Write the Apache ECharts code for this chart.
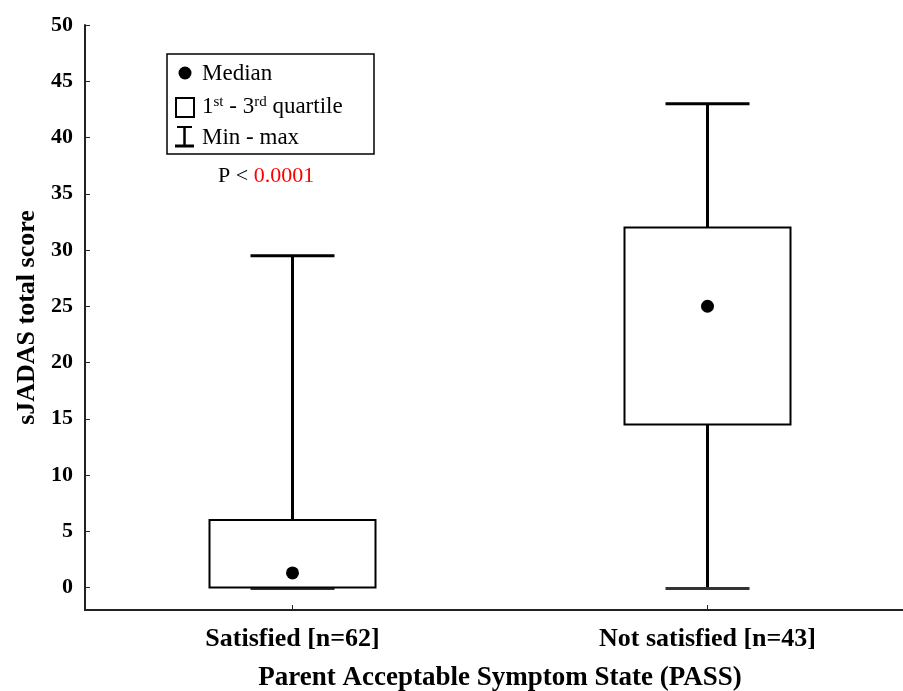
<!DOCTYPE html>
<html>
<head>
<meta charset="utf-8">
<script src="https://cdn.jsdelivr.net/npm/echarts@6/dist/echarts.min.js"></script>
<style>
  html, body { margin: 0; padding: 0; background: #fff; }
  #chart { width: 903px; height: 691px; }
</style>
</head>
<body>
<div id="chart"></div>
<script>
// Groups and their five-number summaries (sJADAS total score)
const categories = ['Satisfied [n=62]', 'Not satisfied [n=43]'];
const minValues = [0, 0];
const q1Values = [0, 14.5];
const medianValues = [1.3, 25];
const q3Values = [6, 32];
const maxValues = [29.5, 43];
const yTicks = [0, 5, 10, 15, 20, 25, 30, 35, 40, 45, 50];

const FONT = '"Liberation Serif", "Times New Roman", serif';

const boxData = categories.map((c, i) => [i, minValues[i], q1Values[i], medianValues[i], q3Values[i], maxValues[i]]);

function renderBox(params, api) {
  const i = api.value(0);
  const x = api.coord([i, 0])[0];
  const yMin = api.coord([i, api.value(1)])[1];
  const yQ1 = api.coord([i, api.value(2)])[1];
  const yMed = api.coord([i, api.value(3)])[1];
  const yQ3 = api.coord([i, api.value(4)])[1];
  const yMax = api.coord([i, api.value(5)])[1];
  const halfBox = 83;
  const halfCap = 42;
  const capStyle = { stroke: '#000', lineWidth: 3 };
  const children = [
    // upper whisker + cap
    { type: 'line', shape: { x1: x, y1: yQ3, x2: x, y2: yMax }, style: capStyle },
    { type: 'line', shape: { x1: x - halfCap, y1: yMax, x2: x + halfCap, y2: yMax }, style: capStyle },
    // lower whisker + cap
    { type: 'line', shape: { x1: x, y1: yQ1, x2: x, y2: yMin }, style: capStyle },
    { type: 'line', shape: { x1: x - halfCap, y1: yMin + 1, x2: x + halfCap, y2: yMin + 1 }, style: { stroke: '#333', lineWidth: 3 } },
    // interquartile box
    { type: 'rect', shape: { x: x - halfBox, y: yQ3, width: halfBox * 2, height: yQ1 - yQ3 },
      style: { fill: '#fff', stroke: '#000', lineWidth: 2 } },
    // median
    { type: 'circle', shape: { cx: x, cy: yMed, r: 6.5 }, style: { fill: '#000' } }
  ];
  return { type: 'group', children };
}

const chart = echarts.init(document.getElementById('chart'), null, { renderer: 'canvas' });

chart.setOption({
  backgroundColor: '#fff',
  animation: false,
  grid: { left: 85, top: 25, width: 830, bottom: 81, containLabel: false, outerBoundsMode: 'none' },
  xAxis: {
    type: 'category',
    data: categories,
    boundaryGap: true,
    name: 'Parent Acceptable Symptom State (PASS)',
    nameLocation: 'middle',
    nameGap: 55,
    nameTextStyle: { fontFamily: FONT, fontWeight: 'bold', fontSize: 27, color: '#000' },
    axisLine: { onZero: false, lineStyle: { color: '#222', width: 2 } },
    axisTick: { show: true, inside: true, length: 5, alignWithLabel: true, lineStyle: { color: '#222', width: 1 } },
    axisLabel: { fontFamily: FONT, fontWeight: 'bold', fontSize: 26, color: '#000', margin: 16 },
    splitLine: { show: false }
  },
  yAxis: {
    type: 'value',
    min: -2,
    max: 50,
    name: 'sJADAS total score',
    nameLocation: 'middle',
    nameGap: 39,
    nameTextStyle: { fontFamily: FONT, fontWeight: 'bold', fontSize: 26, color: '#000' },
    axisLine: { show: true, lineStyle: { color: '#222', width: 2 } },
    axisTick: { show: true, inside: true, length: 5, customValues: yTicks, lineStyle: { color: '#222', width: 1 } },
    axisLabel: { fontFamily: FONT, fontWeight: 'bold', fontSize: 22, color: '#000', margin: 12, customValues: yTicks },
    splitLine: { show: false }
  },
  graphic: [
    { type: 'rect', shape: { x: 167, y: 54, width: 207, height: 100 }, style: { fill: '#fff', stroke: '#000', lineWidth: 1.5 } },
    { type: 'circle', shape: { cx: 185, cy: 73, r: 6.5 }, style: { fill: '#000' } },
    { type: 'text', x: 202, y: 74, style: { text: 'Median', fontFamily: FONT, fontSize: 23, fill: '#000', verticalAlign: 'middle' } },
    { type: 'rect', shape: { x: 176, y: 98, width: 18, height: 19 }, style: { fill: '#fff', stroke: '#000', lineWidth: 2 } },
    { type: 'text', x: 202, y: 107, style: {
        text: '1{sup|st} - 3{sup|rd} quartile',
        fontFamily: FONT, fontSize: 23, fill: '#000', verticalAlign: 'middle',
        rich: { sup: { fontFamily: FONT, fontSize: 15, fill: '#000', verticalAlign: 'top', padding: [0, 0, 10, 0] } }
      } },
    { type: 'line', shape: { x1: 177, y1: 127, x2: 192, y2: 127 }, style: { stroke: '#000', lineWidth: 2 } },
    { type: 'line', shape: { x1: 184.5, y1: 127, x2: 184.5, y2: 146 }, style: { stroke: '#000', lineWidth: 2.5 } },
    { type: 'line', shape: { x1: 175, y1: 146, x2: 194, y2: 146 }, style: { stroke: '#000', lineWidth: 3 } },
    { type: 'text', x: 202, y: 138, style: { text: 'Min - max', fontFamily: FONT, fontSize: 23, fill: '#000', verticalAlign: 'middle' } },
    { type: 'text', x: 218, y: 176, style: {
        text: 'P < {red|0.0001}', fontFamily: FONT, fontSize: 22, fill: '#000', verticalAlign: 'middle',
        rich: { red: { fontFamily: FONT, fontSize: 22, fill: '#ff0000' } }
      } }
  ],
  series: [{
    type: 'custom',
    renderItem: renderBox,
    data: boxData,
    encode: { x: 0, y: [1, 2, 3, 4, 5] },
    clip: false
  }]
});
</script>
</body>
</html>
